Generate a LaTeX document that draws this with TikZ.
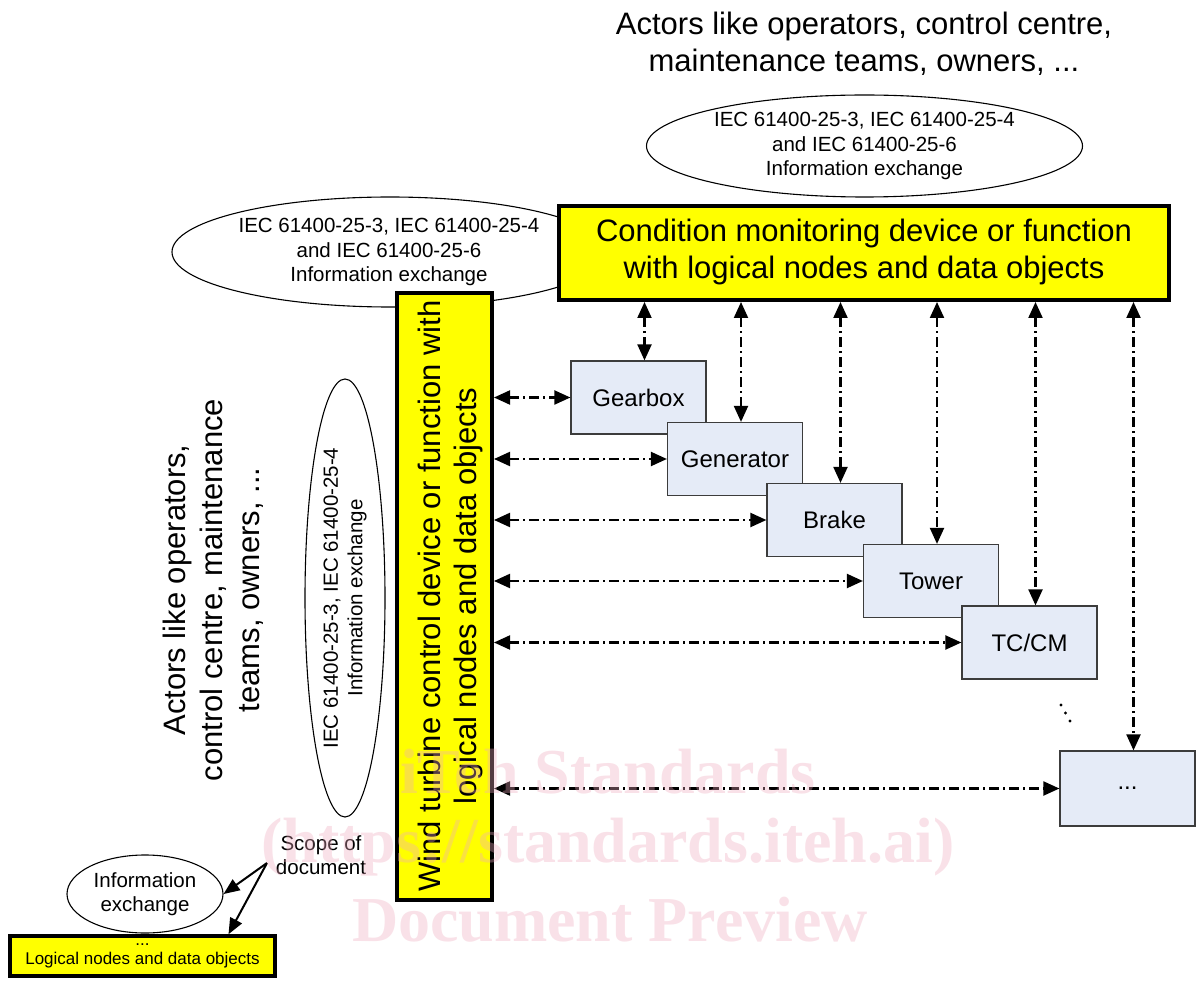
\documentclass[tikz,border=0pt]{standalone}
\usepackage{fontspec}
\setmainfont{Liberation Sans}
\newfontfamily\wmfont{Liberation Serif}
\usetikzlibrary{arrows.meta,shapes.geometric}
\definecolor{cmyellow}{RGB}{255,255,0}
\definecolor{compblue}{RGB}{229,235,247}
\definecolor{compedge}{RGB}{60,60,60}
\definecolor{wmpink}{RGB}{240,170,190}
\begin{document}
\begin{tikzpicture}[x=1pt,y=-1pt,
  ybox/.style={draw=black, line width=4pt, fill=cmyellow, inner sep=0pt},
  comp/.style={draw=compedge, line width=1.2pt, fill=compblue, minimum width=135pt, minimum height=73pt, inner sep=0pt, font=\fontsize{24}{28}\selectfont},
  ell/.style={draw=black, line width=1.1pt, ellipse, inner sep=0pt, fill=white},
  big/.style={font=\fontsize{31}{37}\selectfont, align=center, inner sep=0pt},
  small/.style={font=\fontsize{20.5}{24.5}\selectfont, align=center, inner sep=0pt},
  link/.style={line width=2.1pt, dash pattern=on 10pt off 4pt on 2pt off 4pt, {Triangle[length=16pt,width=14pt]}-{Triangle[length=16pt,width=14pt]}},
  scopearrow/.style={line width=2pt, -{Triangle[length=16pt,width=13pt]}},
  watermark/.style={text=wmpink, text opacity=0.35, font=\wmfont\bfseries\fontsize{64}{73}\selectfont, inner sep=0pt}
]
\useasboundingbox (0,0) rectangle (1197,981);
\fill[white] (0,0) rectangle (1197,981);

% top actors text
\node[big] (actorsTop) at (864,44) {Actors like operators, control centre,\\maintenance teams, owners, ...};

% top ellipse
\node[ell, minimum width=436pt, minimum height=102pt] (ellTop) at (864.5,146) {};
\node[small] (ellTopText) at (864.5,146) {IEC 61400-25-3, IEC 61400-25-4\\and IEC 61400-25-6\\Information exchange};

% left ellipse
\node[ell, minimum width=436pt, minimum height=110pt] (ellLeft) at (390,252) {};
\node[small] (ellLeftText) at (389,252) {IEC 61400-25-3, IEC 61400-25-4\\and IEC 61400-25-6\\Information exchange};

% condition monitoring box
\node[ybox, minimum width=610pt, minimum height=94pt] (cm) at (864,253) {};
\node[big] (cmText) at (864,252) {Condition monitoring device or function\\with logical nodes and data objects};

% vertical ellipse
\node[ell, minimum width=80pt, minimum height=438pt] (ellV) at (345,598) {};
\node[small, rotate=90] (ellVText) at (345,598) {IEC 61400-25-3, IEC 61400-25-4\\Information exchange};

% left actors text
\node[big, rotate=90] (actorsLeft) at (213,590) {Actors like operators,\\control centre, maintenance\\teams, owners, ...};

% wind turbine box
\node[ybox, minimum width=95pt, minimum height=607pt] (wt) at (444.5,596.5) {};
\node[big, rotate=90, font=\fontsize{31}{36}\selectfont] (wtText) at (450,596) {Wind turbine control device or function with\\logical nodes and data objects};

% components
\node[comp] (gear) at (638.5,397.5) {Gearbox};
\node[comp] (gen) at (735,459) {Generator};
\node[comp] (brake) at (834.5,520) {Brake};
\node[comp] (tower) at (931,581) {Tower};
\node[comp] (tccm) at (1029.5,642.5) {TC/CM};
\node[comp, minimum height=75pt] (more) at (1127.5,788.5) {...};

% horizontal links
\draw[link] (wt.east |- gear.west) -- (gear.west);
\draw[link] (wt.east |- gen.west) -- (gen.west);
\draw[link] (wt.east |- brake.west) -- (brake.west);
\draw[link] (wt.east |- tower.west) -- (tower.west);
\draw[link] (wt.east |- tccm.west) -- (tccm.west);
\draw[link] (wt.east |- more.west) -- (more.west);

% vertical links
\coordinate (gearTop) at ([xshift=6pt]gear.north);
\coordinate (genTop) at ([xshift=6pt]gen.north);
\coordinate (brakeTop) at ([xshift=6pt]brake.north);
\coordinate (towerTop) at ([xshift=6pt]tower.north);
\coordinate (tccmTop) at ([xshift=6pt]tccm.north);
\coordinate (moreTop) at ([xshift=6pt]more.north);
\draw[link] (gearTop |- cm.south) -- (gearTop);
\draw[link] (genTop |- cm.south) -- (genTop);
\draw[link] (brakeTop |- cm.south) -- (brakeTop);
\draw[link] (towerTop |- cm.south) -- (towerTop);
\draw[link] (tccmTop |- cm.south) -- (tccmTop);
\draw[link] (moreTop |- cm.south) -- (moreTop);

% diagonal dots
\fill (1061,705) circle (1.7);
\fill (1065.5,713) circle (1.7);
\fill (1070,721) circle (1.7);

% legend
\node[ell, minimum width=156pt, minimum height=78pt] (legEll) at (145,894) {};
\node[small] (legEllText) at (145,894) {Information\\exchange};
\node[ybox, line width=3.5pt, minimum width=265pt, minimum height=40pt, font=\fontsize{17}{19}\selectfont, align=center] (legBox) at (142.5,956) {...\\Logical nodes and data objects};
\node[small] (scope) at (321,855) {Scope of\\document};
\coordinate (scopeFoot) at (267,863);
\coordinate (legBoxTarget) at ([xshift=86pt]legBox.north);
\draw[scopearrow] (scopeFoot) -- (legEll.east);
\draw[scopearrow] (scopeFoot) -- (legBoxTarget);

% watermark
\node[watermark] (wm1) at (608,772) {iTeh Standards};
\node[watermark] (wm2) at (608,847) {(https://standards.iteh.ai)};
\node[watermark] (wm3) at (610,920) {Document Preview};
\end{tikzpicture}
\end{document}
